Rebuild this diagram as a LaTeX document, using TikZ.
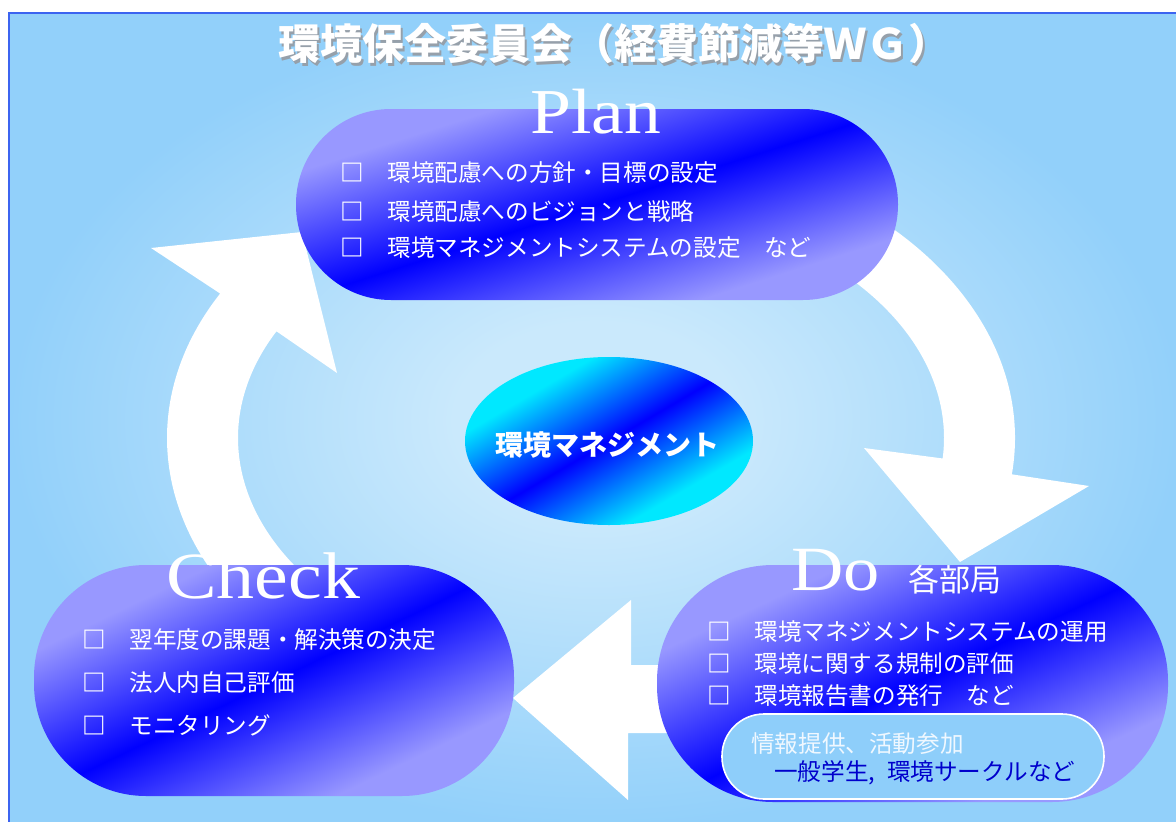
\documentclass[tikz,border=0pt]{standalone}
\usepackage{fontspec}
\setmainfont{Liberation Serif}
\newfontfamily\cjk{Noto Sans CJK JP}
\newfontfamily\cent[FakeStretch=1.15]{Liberation Serif}
\usetikzlibrary{calc,shapes.geometric}
\definecolor{bgout}{RGB}{146,208,250}
\definecolor{bgin}{RGB}{202,233,252}
\definecolor{framec}{RGB}{60,100,240}
\definecolor{lp}{RGB}{152,152,255}
\definecolor{cy}{RGB}{0,232,255}
\definecolor{subfill}{RGB}{142,206,250}
\definecolor{darkblue}{RGB}{0,0,204}
\definecolor{shadowc}{RGB}{150,160,170}
\definecolor{paletext}{RGB}{240,248,255}
\pgfdeclareradialshading{bgshade}{\pgfpoint{0bp}{0bp}}{color(0bp)=(bgin); color(6bp)=(bgin); color(25bp)=(bgout); color(50bp)=(bgout)}
\pgfdeclarehorizontalshading{pillshade}{100bp}{color(0bp)=(lp); color(29bp)=(lp); color(50bp)=(blue); color(71bp)=(lp); color(100bp)=(lp)}
\pgfdeclarehorizontalshading{ellshade}{100bp}{color(0bp)=(cy); color(31bp)=(cy); color(50bp)=(blue); color(69bp)=(cy); color(100bp)=(cy)}
\newcommand{\shadowtext}[1]{\makebox[0pt][l]{\hspace{2.2pt}\raisebox{-2.6pt}{\color{shadowc}#1}}#1}
\tikzset{
  pillbox/.style={shading=pillshade, inner sep=0pt},
  subbox/.style={fill=subfill, draw=white, line width=1.6pt, inner sep=0pt},
  bigword/.style={text=white, inner sep=0pt, anchor=base west, font=\cent\fontsize{#1}{#1}\selectfont},
  item/.style={text=white, inner sep=0pt, anchor=west, font=\cjk\fontsize{23.6}{28}\selectfont},
  arrowfill/.style={fill=white},
}
\newcommand{\bx}{{\bfseries □}}
\begin{document}
\begin{tikzpicture}[x=1pt,y=-1pt]
\useasboundingbox (0,0) rectangle (1176,822);
% background
\path[shading=bgshade, draw=framec, line width=2.4pt] (9,13) rectangle (1182,828);
\coordinate (cyc) at (591,438);
% title
\node[text=white, inner sep=0pt, font=\cjk\bfseries\fontsize{42}{46}\selectfont] (title) at (614,45) {\shadowtext{環境保全委員会（経費節減等ＷＧ）}};
% arrows
\fill[arrowfill] ($(cyc)+(-60:424 and 298)$) arc[start angle=-60,end angle=7,x radius=424,y radius=298]
  -- (1089,486) -- (960,562) -- (864,448) -- ($(cyc)+(5:353 and 235)$)
  arc[start angle=5,end angle=-60,x radius=353,y radius=235] -- cycle;
\fill[arrowfill] ($(cyc)+(145:424 and 298)$) arc[start angle=145,end angle=209,x radius=424,y radius=298]
  -- (151,248) -- (302,232) -- (337,373) -- ($(cyc)+(207:353 and 235)$)
  arc[start angle=207,end angle=140,x radius=353,y radius=235] -- cycle;
\fill[arrowfill] (700,665) -- (631,665) -- (631,600) -- (513,698) -- (628,800) -- (628,733) -- (700,733) -- cycle;
% pills
\node[pillbox, shading angle=-72.4, minimum width=602pt, minimum height=191pt, rounded corners=95pt] (plan) at (597,204.5) {};
\node[pillbox, shading angle=-64.3, minimum width=480pt, minimum height=231pt, rounded corners=112pt] (check) at (274,680.5) {};
\node[pillbox, shading angle=-65.1, minimum width=511pt, minimum height=237pt, rounded corners=116pt] (do) at (912.5,683.5) {};
\node[subbox, minimum width=382pt, minimum height=85pt, rounded corners=42pt] (sub) at (913,756.5) {};
% centre ellipse
\node[ellipse, shading=ellshade, shading angle=-59.7, minimum width=288pt, minimum height=168pt, inner sep=0pt] (em) at (609,441) {};
\node[text=white, inner sep=0pt, font=\cjk\bfseries\fontsize{28}{30}\selectfont] (emtext) at (607,445) {環境マネジメント};
% big words
\node[bigword=64] (planw) at (530,133) {Plan};
\node[bigword=66] (checkw) at (166,598) {Check};
\node[bigword=63] (dow) at (791,590) {Do};
\node[text=white, inner sep=0pt, anchor=west, font=\cjk\fontsize{31}{34}\selectfont] (dept) at (908,580) {各部局};
% Plan items
\node[item] (p1) at (340,173) {\bx　環境配慮への方針・目標の設定};
\node[item] (p2) at (340,211) {\bx　環境配慮へのビジョンと戦略};
\node[item] (p3) at (340,248) {\bx　環境マネジメントシステムの設定　など};
% Do items
\node[item] (d1) at (707,632) {\bx　環境マネジメントシステムの運用};
\node[item] (d2) at (707,664) {\bx　環境に関する規制の評価};
\node[item] (d3) at (707,696) {\bx　環境報告書の発行　など};
% Check items
\node[item] (c1) at (82,640) {\bx　翌年度の課題・解決策の決定};
\node[item] (c2) at (82,683) {\bx　法人内自己評価};
\node[item] (c3) at (82,725) {\bx　モニタリング};
% sub box texts
\node[item, text=paletext] (s1) at (751,744) {情報提供、活動参加};
\node[item, text=darkblue] (s2) at (774,773) {一般学生,\hspace{12pt}環境サークルなど};
\end{tikzpicture}
\end{document}
